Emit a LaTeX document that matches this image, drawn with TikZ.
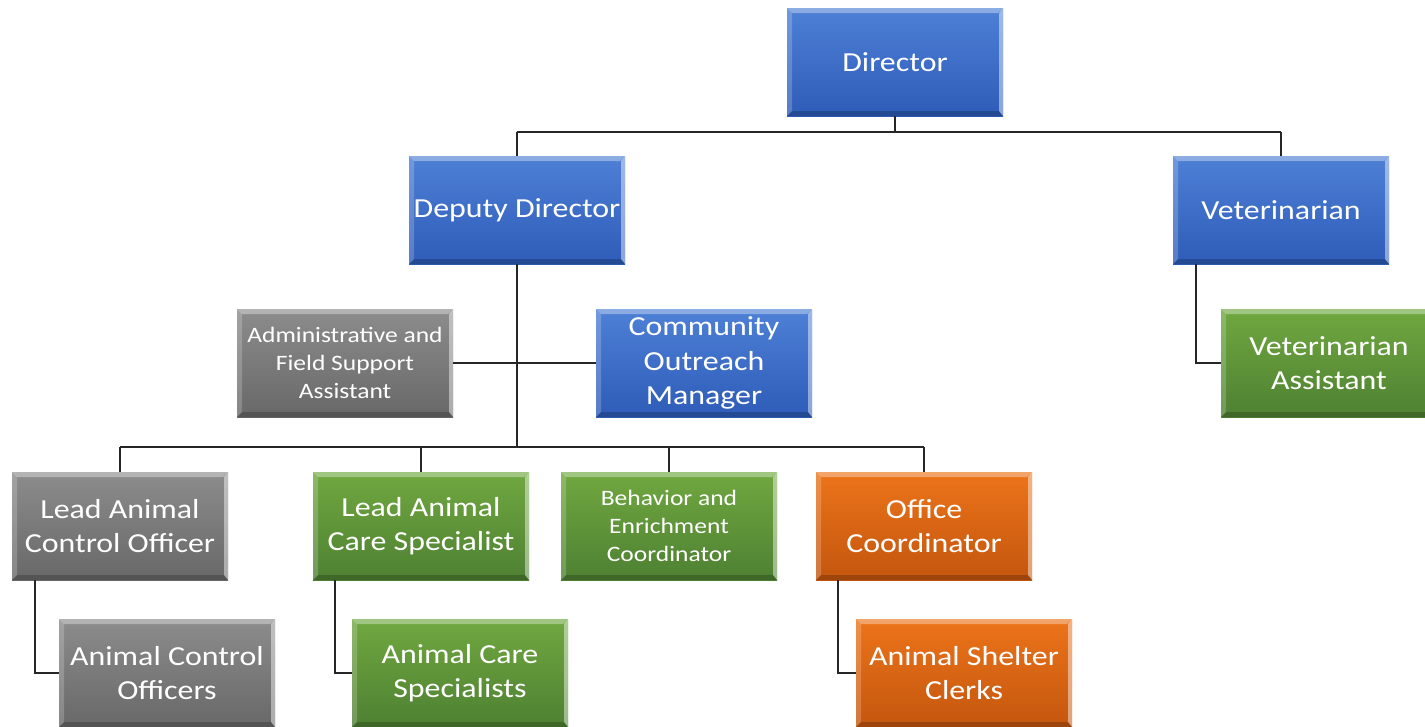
\documentclass[tikz,border=0pt]{standalone}
\usepackage{fontspec}
\setmainfont{Carlito}[FakeStretch=1.16]
\begin{document}
\begin{tikzpicture}[x=1pt,y=-1pt,
  box/.style={minimum width=216pt, minimum height=108pt, inner sep=0pt, align=center,
    text=white, font=\fontsize{27.5}{34.5}\selectfont,
    path picture={
      \fill[white,opacity=.35] (path picture bounding box.north west) -- (path picture bounding box.north east)
        -- ([xshift=-5pt,yshift=-5pt]path picture bounding box.north east) -- ([xshift=5pt,yshift=-5pt]path picture bounding box.north west) -- cycle;
      \fill[white,opacity=.2] (path picture bounding box.north west) -- ([xshift=5pt,yshift=-5pt]path picture bounding box.north west)
        -- ([xshift=5pt,yshift=5pt]path picture bounding box.south west) -- (path picture bounding box.south west) -- cycle;
      \fill[white,opacity=.45] (path picture bounding box.north east) -- ([xshift=-4pt,yshift=-5pt]path picture bounding box.north east)
        -- ([xshift=-4pt,yshift=5pt]path picture bounding box.south east) -- (path picture bounding box.south east) -- cycle;
      \fill[black,opacity=.2] (path picture bounding box.south west) -- ([xshift=5pt,yshift=5pt]path picture bounding box.south west)
        -- ([xshift=-4pt,yshift=5pt]path picture bounding box.south east) -- (path picture bounding box.south east) -- cycle;
    }},
  small/.style={font=\fontsize{22}{28}\selectfont},
  bluebox/.style={box, top color=blueT, bottom color=blueB},
  graybox/.style={box, top color=grayT, bottom color=grayB},
  greenbox/.style={box, top color=greenT, bottom color=greenB},
  orangebox/.style={box, top color=orangeT, bottom color=orangeB},
  link/.style={draw=black!85, line width=1.6pt}
]
\definecolor{blueT}{RGB}{78,128,214}
\definecolor{blueB}{RGB}{46,92,184}
\definecolor{grayT}{RGB}{140,140,140}
\definecolor{grayB}{RGB}{104,104,104}
\definecolor{greenT}{RGB}{112,168,64}
\definecolor{greenB}{RGB}{78,128,50}
\definecolor{orangeT}{RGB}{236,116,26}
\definecolor{orangeB}{RGB}{196,86,14}
\useasboundingbox (0,0) rectangle (1425,726);
\clip (0,0) rectangle (1425,726);

\node[bluebox] (dir) at (895,62) {Director};
\node[bluebox] (dep) at (517,210) {Deputy Director};
\node[bluebox] (vet) at (1281,210) {Veterinarian};
\node[graybox,small] (adm) at (345,363) {Administrative and\\Field Support\\Assistant};
\node[bluebox] (com) at (704,363) {Community\\Outreach\\Manager};
\node[greenbox] (va) at (1329,363) {Veterinarian\\Assistant};
\node[graybox] (laco) at (120,526) {Lead Animal\\Control Officer};
\node[greenbox] (lacs) at (421,526) {Lead Animal\\Care Specialist};
\node[greenbox,small] (bec) at (669,526) {Behavior and\\Enrichment\\Coordinator};
\node[orangebox] (oc) at (924,526) {Office\\Coordinator};
\node[graybox] (aco) at (167,673) {Animal Control\\Officers};
\node[greenbox] (acs) at (460,673) {Animal Care\\Specialists};
\node[orangebox] (asc) at (964,673) {Animal Shelter\\Clerks};

\coordinate (j1) at (895,132);
\coordinate (j2) at (517,447);
\draw[link] (dir.south) -- (j1);
\draw[link] (j1 -| dep) -- (j1 -| vet);
\draw[link] (j1 -| dep) -- (dep.north);
\draw[link] (j1 -| vet) -- (vet.north);
\draw[link] (dep.south) -- (j2);
\draw[link] (adm.east) -- (com.west);
\draw[link] (j2 -| laco) -- (j2 -| oc);
\draw[link] (j2 -| laco) -- (laco.north);
\draw[link] (j2 -| lacs) -- (lacs.north);
\draw[link] (j2 -| bec) -- (bec.north);
\draw[link] (j2 -| oc) -- (oc.north);
\draw[link] ([xshift=23pt]vet.south west) |- (va.west);
\draw[link] ([xshift=23pt]laco.south west) |- (aco.west);
\draw[link] ([xshift=22pt]lacs.south west) |- (acs.west);
\draw[link] ([xshift=22pt]oc.south west) |- (asc.west);
\end{tikzpicture}
\end{document}
